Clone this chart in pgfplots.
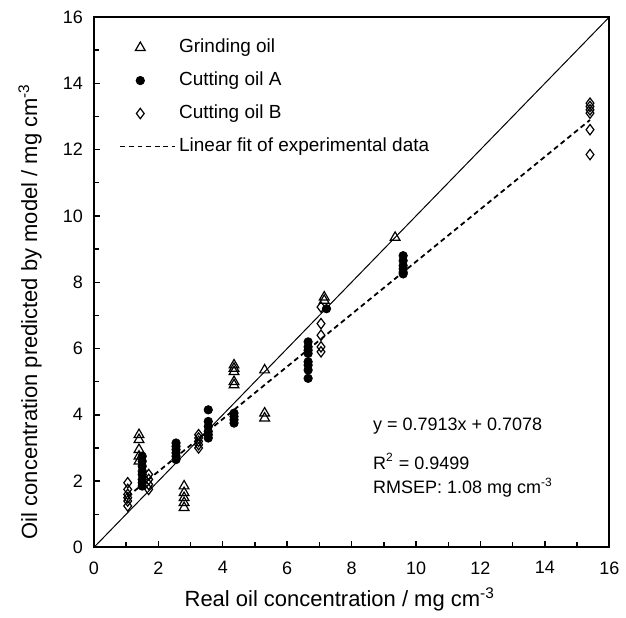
\documentclass[border=0pt]{standalone}
\usepackage{fontspec}
\setmainfont{Liberation Sans}
\usepackage{pgfplots}
\pgfplotsset{compat=1.18}
\pgfplotsset{
  markleg/.style={legend image code/.code={\draw[##1,mark repeat=2,mark phase=2] plot coordinates {(0pt,0pt) (10pt,0pt) (27.5pt,0pt)};}},
  lineleg/.style={legend image code/.code={\draw[##1] (0pt,0pt) -- (27.5pt,0pt);}},
}
\begin{document}
\begin{tikzpicture}
\path (-47pt,-33.5pt) rectangle (266pt,274pt);
\begin{axis}[
 at={(0pt,0pt)}, anchor=south west,
 scale only axis, width=258pt, height=265.5pt,
 xmin=0,xmax=16,ymin=0,ymax=16,
 xtick={0,2,...,16}, ytick={0,2,...,16},
 minor tick num=1,
 tick pos=left, tick align=inside,
 major tick length=3pt, minor tick length=2.5pt,
 axis line style={line width=1pt},
 every tick/.style={black, line width=0.7pt},
 tick label style={font=\fontsize{9}{10}\selectfont},
 xticklabel style={yshift=-3.5pt},
 yticklabel style={xshift=-2pt},
 /pgf/number format/assume math mode=true,
 xlabel={Real oil concentration / mg cm\textsuperscript{-3}},
 ylabel={Oil concentration predicted by model / mg cm\textsuperscript{-3}},
 label style={font=\fontsize{11}{12}\selectfont},
 xlabel style={at={(axis description cs:0.477,-0.098)},anchor=center},
 ylabel style={at={(axis description cs:-0.124,0.445)},anchor=center},
 clip=false,
 legend cell align=left,
 legend style={at={(axis cs:0.78,15.45)}, anchor=north west, draw=none, fill=none,
   font=\fontsize{9.5}{11}\selectfont, row sep=4.5pt, inner sep=0pt,
   nodes={inner sep=1.5pt, text height=7pt, text depth=2pt}},
]
\addplot[black, line width=0.5pt, forget plot] coordinates {(0,0) (16,16)};

\addplot[only marks, mark=triangle, mark size=2.8pt, mark options={solid, fill=white, line width=0.6pt}, markleg]
coordinates {
(1.4,3.4) (1.4,3.25) (1.4,2.95) (1.4,2.75) (1.4,2.6)
(2.8,1.85) (2.8,1.65) (2.8,1.5) (2.8,1.35) (2.8,1.2)
(4.35,5.5) (4.35,5.4) (4.35,5.3) (4.35,5.0) (4.35,4.9)
(5.3,5.35) (5.3,4.05) (5.3,3.9)
(7.15,7.55) (7.15,7.45)
(9.35,9.35)
};
\addlegendentry{Grinding oil}

\addplot[only marks, mark=*, mark size=2.1pt, mark options={solid, fill=black}, markleg]
coordinates {
(1.5,2.75) (1.5,2.6) (1.5,2.45) (1.5,2.3) (1.5,2.2) (1.5,2.05) (1.5,1.95) (1.5,1.85)
(2.55,3.15) (2.55,3.05) (2.55,2.95) (2.55,2.85) (2.55,2.75) (2.55,2.65)
(3.55,4.15) (3.55,3.8) (3.55,3.65) (3.55,3.5) (3.55,3.4) (3.55,3.3)
(4.35,4.05) (4.35,3.95) (4.35,3.85) (4.35,3.75)
(6.65,6.2) (6.65,6.05) (6.65,5.95) (6.65,5.85) (6.65,5.6) (6.65,5.5) (6.65,5.35) (6.65,5.1)
(7.22,7.2)
(9.6,8.8) (9.6,8.65) (9.6,8.5) (9.6,8.4) (9.6,8.3) (9.6,8.25)
};
\addlegendentry{Cutting oil A}

\addplot[only marks, mark=diamond, mark size=2.6pt, mark options={solid, fill=white, line width=0.6pt}, markleg]
coordinates {
(1.05,1.95) (1.05,1.75) (1.05,1.6) (1.05,1.5) (1.05,1.4) (1.05,1.25)
(1.7,2.2) (1.7,2.05) (1.7,1.9) (1.7,1.75)
(3.25,3.4) (3.25,3.3) (3.25,3.2) (3.25,3.1) (3.25,3.0)
(7.05,7.25) (7.05,6.75) (7.05,6.4) (7.05,6.05) (7.05,5.9)
(15.4,13.4) (15.4,13.3) (15.4,13.2) (15.4,13.1) (15.4,12.6) (15.4,11.85)
};
\addlegendentry{Cutting oil B}

\addplot[black, line width=0.9pt, dash pattern=on 2.5pt off 1.8pt, lineleg]
coordinates {(1.05,1.538) (15.4,12.894)};
\addlegendentry{Linear fit of experimental data}

\node[anchor=west, font=\fontsize{9}{10}\selectfont] at (axis cs:8.45,3.65) {y = 0.7913x + 0.7078};
\node[anchor=west, font=\fontsize{9}{10}\selectfont] at (axis cs:8.45,2.6) {R\textsuperscript{2} = 0.9499};
\node[anchor=west, font=\fontsize{9}{10}\selectfont] at (axis cs:8.45,1.8) {RMSEP: 1.08 mg cm\textsuperscript{-3}};
\end{axis}
\end{tikzpicture}
\end{document}
